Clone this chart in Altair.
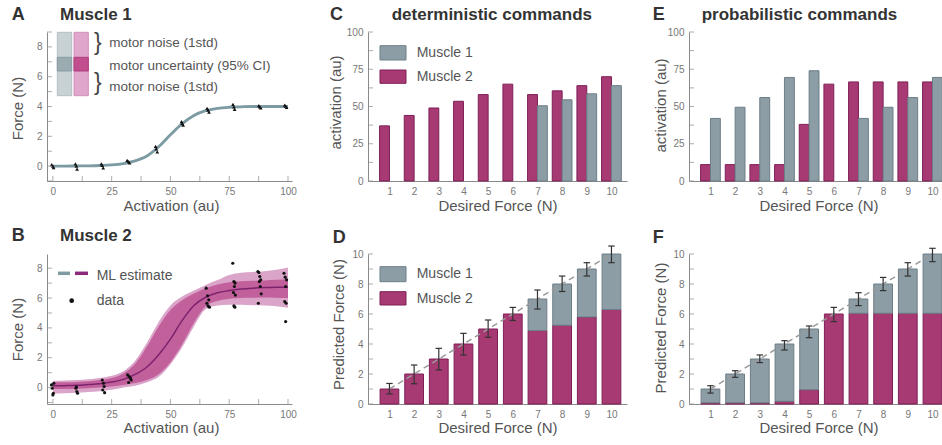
import altair as alt
import pandas as pd

FONT = "Liberation Sans"
AXIS_COL = "#8a8a8a"
LABEL_COL = "#777777"
TITLE_COL = "#555555"
HEAD_COL = "#333333"
TEXT_COL = "#555555"

GRAY_FILL = "#8c9da5"
GRAY_STROKE = "#6c7e86"
MAG_FILL = "#a83a73"
MAG_STROKE = "#7e1f58"

# ---------------- data ----------------
curve_x = [0, 5, 10, 15, 20, 25, 30, 35, 40, 45, 50, 55, 60, 65, 70, 75, 80, 85, 90, 95, 100]
m1_curve = [0.0, 0.0, 0.01, 0.02, 0.04, 0.08, 0.17, 0.35, 0.68, 1.3, 2.1, 2.85, 3.4, 3.72, 3.88,
            3.95, 3.98, 4.0, 4.0, 4.0, 4.0]
m1_pts_x = [-0.5, 0.3, 0.0, 9.6, 10.3, 10.0, 20.6, 21.4, 21.0, 31.6, 32.6, 32.2, 43.7, 44.4, 44.0,
            54.7, 55.4, 55.0, 65.6, 66.4, 66.0, 76.6, 77.3, 77.0, 87.6, 88.4, 88.0, 98.6, 99.4, 99.0]
m1_pts_y = [0.1, -0.1, 0.0, 0.15, -0.2, 0.0, 0.15, -0.12, 0.05, 0.38, 0.22, 0.3, 1.32, 0.95, 1.15,
            2.98, 2.75, 2.86, 3.88, 3.62, 3.76, 4.15, 3.8, 3.97, 4.06, 3.9, 3.98, 4.1, 3.94, 4.02]

m2_mean = [0.12, 0.13, 0.15, 0.2, 0.26, 0.37, 0.55, 0.88, 1.38, 2.2, 3.25, 4.5, 5.5, 6.05, 6.35,
           6.5, 6.6, 6.66, 6.7, 6.72, 6.73]
m2_noise_hi = [0.45, 0.47, 0.5, 0.56, 0.65, 0.8, 1.1, 1.8, 3.0, 4.4, 5.5, 6.1, 6.5, 6.88, 7.2,
               7.55, 7.7, 7.75, 7.8, 7.9, 8.05]
m2_noise_lo = [-0.4, -0.38, -0.35, -0.3, -0.25, -0.15, 0.0, 0.12, 0.35, 0.72, 1.55, 2.7, 4.1, 5.25,
               5.5, 5.55, 5.55, 5.52, 5.5, 5.45, 5.35]
m2_unc_hi = [0.35, 0.36, 0.38, 0.42, 0.5, 0.65, 0.95, 1.6, 2.75, 4.1, 5.2, 5.85, 6.3, 6.65, 6.9,
             7.05, 7.12, 7.15, 7.18, 7.22, 7.25]
m2_unc_lo = [-0.1, -0.09, -0.07, -0.04, 0.0, 0.07, 0.17, 0.3, 0.5, 0.9, 1.7, 2.9, 4.35, 5.45, 5.8,
             5.95, 6.0, 6.02, 6.03, 6.02, 6.0]
m2_pts_x = [-0.6, -0.3, 0.2, 0.0, 0.4,
            9.8, 10.2, 10.5, 10.0,
            21.0, 21.5, 21.8, 21.2, 22.0,
            31.8, 32.5, 33.0, 33.3, 32.2,
            65.2, 65.8, 66.3, 65.5, 66.0, 66.6,
            76.5, 77.0, 77.5, 77.2, 76.8, 77.6, 77.0, 77.4,
            87.2, 87.6, 88.0, 88.4, 87.8, 88.2, 88.6, 87.4,
            98.3, 98.8, 99.4, 99.0, 98.6, 99.2, 99.0]
m2_pts_y = [0.18, -0.04, -0.38, -0.49, 0.29,
            -0.04, -0.27, -0.38, 0.05,
            0.51, 0.29, 0.07, -0.16, -0.34,
            0.85, 0.74, 0.63, 0.51, 0.34,
            6.66, 6.15, 5.88, 5.65, 5.47, 5.39,
            8.33, 7.1, 7.0, 6.77, 6.37, 6.2, 5.47, 5.39,
            7.78, 7.71, 7.44, 7.22, 7.1, 6.77, 6.28, 5.65,
            7.66, 7.4, 7.22, 6.77, 5.77, 5.65, 4.42]

forces = [1, 2, 3, 4, 5, 6, 7, 8, 9, 10]
det_m1 = [0, 0, 0, 0, 0, 0, 50.5, 54.5, 58.5, 64.0]
det_m2 = [37.0, 44.0, 49.0, 53.5, 58.0, 65.0, 58.0, 60.5, 64.0, 70.0]
prob_m1 = [42.0, 49.5, 56.0, 69.5, 74.0, 0, 42.0, 49.5, 56.0, 69.5]
prob_m2 = [11.0, 11.0, 11.0, 11.0, 38.0, 65.0, 66.5, 66.5, 66.5, 66.5]

det_force_m2 = [1, 2, 3, 4, 5, 6, 4.9, 5.25, 5.8, 6.3]
det_err_lo = [0.67, 1.35, 2.27, 3.27, 4.45, 5.57, 6.33, 7.5, 8.53, 9.42]
det_err_hi = [1.37, 2.6, 3.71, 4.71, 5.6, 6.44, 7.6, 8.53, 9.42, 10.53]
prob_force_m2 = [0.08, 0.08, 0.08, 0.18, 0.95, 6.0, 6.05, 6.05, 6.05, 6.05]
prob_err_lo = [0.73, 1.78, 2.76, 3.6, 4.42, 5.49, 6.56, 7.56, 8.53, 9.49]
prob_err_hi = [1.22, 2.22, 3.27, 4.22, 5.2, 6.44, 7.42, 8.44, 9.42, 10.38]

act_tick_labels = [0, 25, 50, 75, 100]
act_minor = [0, 12.5, 25, 37.5, 50, 62.5, 75, 87.5, 100]
force_labels = [0, 2, 4, 6, 8]
force_minor_a = [-1, 0, 1, 2, 3, 4, 5, 6, 7, 8, 9]
force_minor_b = [-1, 0, 1, 2, 3, 4, 5, 6, 7, 8]
pred_labels = [0, 2, 4, 6, 8, 10]
pred_minor = [0, 1, 2, 3, 4, 5, 6, 7, 8, 9, 10]

# ---------------- layout ----------------
W = 259
HT = 149
HB = 150
ONE = pd.DataFrame({"k": [0]})

xA = alt.Scale(domain=[-2.5, 101.7], range=[0, 245], nice=False, zero=False)
yA = alt.Scale(domain=[-1, 9], nice=False, zero=False)
yB = alt.Scale(domain=[-1.1, 8.95], nice=False, zero=False)
xBar = alt.Scale(domain=[0.13, 10.63], nice=False, zero=False)
yAct = alt.Scale(domain=[0, 100], nice=False, zero=False)
yPred = alt.Scale(domain=[0, 10], nice=False, zero=False)

muscle_fill = alt.Scale(domain=["Muscle 1", "Muscle 2"], range=[GRAY_FILL, MAG_FILL])
muscle_stroke = alt.Scale(domain=["Muscle 1", "Muscle 2"], range=[GRAY_STROKE, MAG_STROKE])


def txt(s, x, y, size=14, weight="normal", color=TEXT_COL, align="left", baseline="middle"):
    return alt.Chart(ONE).mark_text(
        text=s, fontSize=size, fontWeight=weight, color=color, align=align,
        baseline=baseline, font=FONT
    ).encode(x=alt.value(x), y=alt.value(y))


def box(x, x2, y, y2, fill, stroke):
    return alt.Chart(ONE).mark_rect(fill=fill, stroke=stroke, strokeWidth=1).encode(
        x=alt.value(x), x2=alt.value(x2), y=alt.value(y), y2=alt.value(y2))


def seg(x, x2, y, color, width=3.5):
    return alt.Chart(ONE).mark_rule(color=color, strokeWidth=width).encode(
        x=alt.value(x), x2=alt.value(x2), y=alt.value(y))


def header(letter, lx, title, tx, y):
    out = [txt(letter, lx, y, size=18, weight="bold", color=HEAD_COL, baseline="alphabetic")]
    if title:
        out.append(txt(title, tx, y, size=17, weight="bold", color=HEAD_COL, baseline="alphabetic"))
    return out


def yticks(vals, scale, axis):
    return alt.Chart(pd.DataFrame({"v": vals})).mark_tick(
        orient="horizontal", size=5, thickness=1, color=AXIS_COL
    ).encode(y=alt.Y("v:Q", scale=scale, axis=axis), x=alt.value(2.5))


def xticks(vals, scale, axis, h):
    return alt.Chart(pd.DataFrame({"v": vals})).mark_tick(
        orient="vertical", size=5, thickness=1, color=AXIS_COL
    ).encode(x=alt.X("v:Q", scale=scale, axis=axis), y=alt.value(h - 2.5))


def ax(title, values, tx=None, ty=None, fmt=None):
    kw = dict(title=title, values=values, titleBaseline="middle", labelPadding=5)
    if tx is not None:
        kw["titleX"] = tx
    if ty is not None:
        kw["titleY"] = ty
    if fmt is not None:
        kw["format"] = fmt
    return alt.Axis(**kw)


# ---------------- Panel A ----------------
dfA_curve = pd.DataFrame({"act": curve_x, "force": m1_curve})
dfA_pts = pd.DataFrame({"act": m1_pts_x, "force": m1_pts_y})
axA_x = ax("Activation (au)", act_tick_labels, 124, 24)
axA_y = ax("Force (N)", force_labels, -29.5, 76)

A_layers = [
    box(10.3, 24.7, 0.3, 63.7, "#c8d2d5", "#b2bfc3"),
    box(27, 41.3, 0.3, 63.7, "#e0a6cc", "#d28fbd"),
    box(10.3, 24.7, 25.3, 39, "#9aacb0", "#8a9da2"),
    box(27, 41.3, 25.3, 39, "#c14f8f", "#ad3f7d"),
    txt("}", 47, 10.5, size=23, color="#444444"),
    txt("}", 47, 50.5, size=23, color="#444444"),
    txt("motor noise (1std)", 62.3, 11.3, size=13.5),
    txt("motor uncertainty (95% CI)", 62.3, 33.7, size=13.5),
    txt("motor noise (1std)", 62.3, 54.7, size=13.5),
    alt.Chart(dfA_curve).mark_line(color="#7b9aa2", strokeWidth=2.8, interpolate="monotone").encode(
        x=alt.X("act:Q", scale=xA, axis=axA_x),
        y=alt.Y("force:Q", scale=yA, axis=axA_y)),
    alt.Chart(dfA_pts).mark_point(filled=True, shape="triangle-up", size=14, color="#111111", opacity=1).encode(
        x=alt.X("act:Q", scale=xA, axis=axA_x), y=alt.Y("force:Q", scale=yA, axis=axA_y)),
    xticks(act_minor, xA, axA_x, HT),
    yticks(force_minor_a, yA, axA_y),
] + header("A", -35.3, "Muscle 1", 13, -12)
panelA = alt.layer(*A_layers).properties(width=W, height=HT)

# ---------------- Panel B ----------------
dfB = pd.DataFrame({"act": curve_x, "mean": m2_mean, "nlo": m2_noise_lo, "nhi": m2_noise_hi,
                    "ulo": m2_unc_lo, "uhi": m2_unc_hi})
dfB_pts = pd.DataFrame({"act": m2_pts_x, "force": m2_pts_y})
axB_x = ax("Activation (au)", act_tick_labels, 124, 23.5)
axB_y = ax("Force (N)", force_labels, -29.5, 75)

B_layers = [
    alt.Chart(dfB).mark_area(color="#dba5ca", interpolate="monotone").encode(
        x=alt.X("act:Q", scale=xA, axis=axB_x),
        y=alt.Y("nhi:Q", scale=yB, axis=axB_y), y2="nlo:Q"),
    alt.Chart(dfB).mark_area(color="#c2609c", interpolate="monotone").encode(
        x=alt.X("act:Q", scale=xA, axis=axB_x),
        y=alt.Y("uhi:Q", scale=yB, axis=axB_y), y2="ulo:Q"),
    alt.Chart(dfB).mark_line(color="#7d236e", strokeWidth=1.5, interpolate="monotone").encode(
        x=alt.X("act:Q", scale=xA, axis=axB_x), y=alt.Y("mean:Q", scale=yB, axis=axB_y)),
    alt.Chart(dfB_pts).mark_circle(size=10, color="#111111", opacity=1).encode(
        x=alt.X("act:Q", scale=xA, axis=axB_x), y=alt.Y("force:Q", scale=yB, axis=axB_y)),
    seg(11, 23, 19.3, "#7f9aa0"),
    seg(28, 41, 19.3, "#8b2a7a"),
    txt("ML estimate", 49.7, 22, size=14),
    alt.Chart(ONE).mark_circle(size=22, color="#111111", opacity=1).encode(
        x=alt.value(24.7), y=alt.value(46.7)),
    txt("data", 49.7, 46.5, size=14),
    xticks(act_minor, xA, axB_x, HB),
    yticks(force_minor_b, yB, axB_y),
] + header("B", -35.3, "Muscle 2", 13, -13.3)
panelB = alt.layer(*B_layers).properties(width=W, height=HB)


# ---------------- activation bar panels (C, E) ----------------
def act_panel(m1, m2, letter, lx, title, tx, ytx, yty, legend):
    axx = ax("Desired Force (N)", forces, None, 24, "d")
    axy = ax("activation (au)", act_tick_labels, ytx, yty)
    rows = []
    for f, a1, a2 in zip(forces, m1, m2):
        if a2 > 0:
            rows.append({"force": f, "muscle": "Muscle 2", "act": a2})
        if a1 > 0:
            rows.append({"force": f, "muscle": "Muscle 1", "act": a1})
    df = pd.DataFrame(rows)
    bars = alt.Chart(df).transform_calculate(
        x1="datum.muscle == 'Muscle 2' ? datum.force - 0.4 : datum.force",
        x2="datum.muscle == 'Muscle 2' ? datum.force : datum.force + 0.4",
        zero="0",
    ).mark_rect(strokeWidth=1).encode(
        x=alt.X("x1:Q", scale=xBar, axis=axx), x2="x2:Q",
        y=alt.Y("act:Q", scale=yAct, axis=axy),
        y2="zero:Q",
        fill=alt.Fill("muscle:N", scale=muscle_fill, legend=None),
        stroke=alt.Stroke("muscle:N", scale=muscle_stroke, legend=None),
    )
    layers = [bars, yticks(act_minor, yAct, axy)]
    if legend:
        layers += [
            box(12, 38, 13.7, 28, GRAY_FILL, GRAY_STROKE),
            box(12, 38, 38, 51.3, MAG_FILL, MAG_STROKE),
            txt("Muscle 1", 48.7, 20.7, size=14),
            txt("Muscle 2", 48.7, 44.7, size=14),
        ]
    layers += header(letter, lx, title, tx, -12)
    return alt.layer(*layers).properties(width=W, height=HT)


# ---------------- predicted force panels (D, F) ----------------
def pred_panel(m2, lo, hi, letter, lx, ytx, yty, legend, ty):
    axx = ax("Desired Force (N)", forces, None, 23.5, "d")
    axy = ax("Predicted Force (N)", pred_labels, ytx, yty)
    rows = []
    for f, a2 in zip(forces, m2):
        rows.append({"force": f, "muscle": "Muscle 2", "lo": 0.0, "hi": a2})
        if f - a2 > 0.001:
            rows.append({"force": f, "muscle": "Muscle 1", "lo": a2, "hi": float(f)})
    df = pd.DataFrame(rows)
    bars = alt.Chart(df).transform_calculate(
        x1="datum.force - 0.38", x2="datum.force + 0.38"
    ).mark_rect(strokeWidth=1).encode(
        x=alt.X("x1:Q", scale=xBar, axis=axx), x2="x2:Q",
        y=alt.Y("hi:Q", scale=yPred, axis=axy),
        y2="lo:Q",
        fill=alt.Fill("muscle:N", scale=muscle_fill, legend=None),
        stroke=alt.Stroke("muscle:N", scale=muscle_stroke, legend=None),
    )
    diag = alt.Chart(pd.DataFrame({"f": [forces[0], forces[-1]], "p": [forces[0], forces[-1]]})).mark_line(
        color="#9a9a9a", strokeWidth=1.5, strokeDash=[6, 4]
    ).encode(x=alt.X("f:Q", scale=xBar, axis=axx), y=alt.Y("p:Q", scale=yPred, axis=axy))
    dferr = pd.DataFrame({"force": forces, "lo": lo, "hi": hi})
    err = alt.Chart(dferr).mark_rule(color="#333333", strokeWidth=1.2).encode(
        x=alt.X("force:Q", scale=xBar, axis=axx),
        y=alt.Y("lo:Q", scale=yPred, axis=axy), y2="hi:Q")
    caps_lo = alt.Chart(dferr).transform_calculate(
        c1="datum.force - 0.13", c2="datum.force + 0.13"
    ).mark_rule(color="#333333", strokeWidth=1.2).encode(
        x=alt.X("c1:Q", scale=xBar, axis=axx), x2="c2:Q",
        y=alt.Y("lo:Q", scale=yPred, axis=axy))
    caps_hi = alt.Chart(dferr).transform_calculate(
        c1="datum.force - 0.13", c2="datum.force + 0.13"
    ).mark_rule(color="#333333", strokeWidth=1.2).encode(
        x=alt.X("c1:Q", scale=xBar, axis=axx), x2="c2:Q",
        y=alt.Y("hi:Q", scale=yPred, axis=axy))
    layers = [bars, diag, err, caps_lo, caps_hi, yticks(pred_minor, yPred, axy)]
    if legend:
        layers += [
            box(12, 38, 12.7, 27.7, GRAY_FILL, GRAY_STROKE),
            box(12, 38, 37.7, 51, MAG_FILL, MAG_STROKE),
            txt("Muscle 1", 48.7, 20, size=14),
            txt("Muscle 2", 48.7, 45, size=14),
        ]
    layers += header(letter, lx, None, 0, ty)
    return alt.layer(*layers).properties(width=W, height=HB)


panelC = act_panel(det_m1, det_m2, "C", -38, "deterministic commands", 23.7, -32.7, 70, True)
panelE = act_panel(prob_m1, prob_m2, "E", -36.3, "probabilistic commands", 12.7, -28.5, 73, False)
panelD = pred_panel(det_force_m2, det_err_lo, det_err_hi, "D", -35.3, -29.7, 70, True, -11.3)
panelF = pred_panel(prob_force_m2, prob_err_lo, prob_err_hi, "F", -36.3, -29, 73.5, False, -11.3)

chart = alt.concat(
    panelA, panelC, panelE, panelB, panelD, panelF,
    columns=3, spacing={"row": 73, "column": 62}, bounds="flush"
).properties(
    autosize=alt.AutoSizeParams(type="none"),
    padding={"left": 47, "top": 32, "right": 895, "bottom": 413},
    background="white",
).configure_view(strokeWidth=0).configure_axis(
    domainColor=AXIS_COL, domainWidth=1, labelColor=LABEL_COL, labelFont=FONT, labelFontSize=10,
    titleColor=TITLE_COL, titleFont=FONT, titleFontSize=15, titleFontWeight="normal",
    grid=False, ticks=False, labelFlush=False, labelOverlap=False,
)

chart.save("out.html", embed_options={"renderer": "svg", "actions": False})
